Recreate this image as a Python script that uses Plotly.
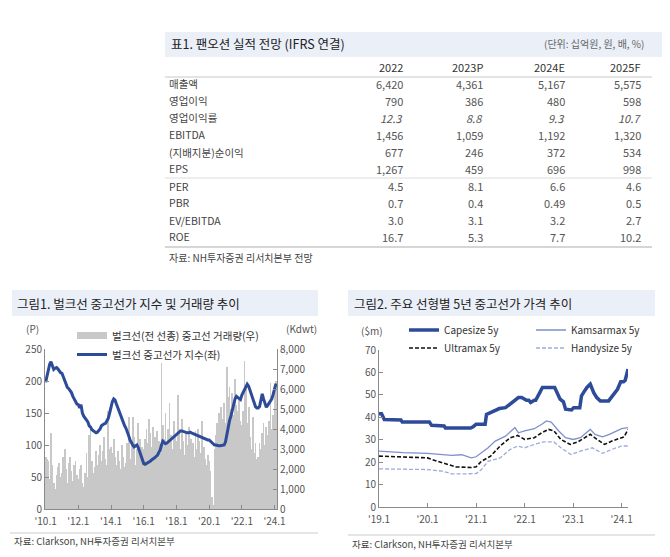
import plotly.graph_objects as go

# page body adds an 8px margin, so the figure is drawn 8px in from the corner
OFF = 8
W, H = 670 - OFF, 557 - OFF
FONT = "Noto Sans CJK KR"

# ---- 표1 data
tbl_title = "표1. 팬오션 실적 전망 (IFRS 연결)"
tbl_unit = "(단위: 십억원, 원, 배, %)"
tbl_cols = ["2022", "2023P", "2024E", "2025F"]
tbl_rows = ["매출액", "영업이익", "영업이익률", "EBITDA", "(지배지분)순이익", "EPS",
            "PER", "PBR", "EV/EBITDA", "ROE"]
tbl_vals = [
    ["6,420", "4,361", "5,167", "5,575"],
    ["790", "386", "480", "598"],
    ["12.3", "8.8", "9.3", "10.7"],
    ["1,456", "1,059", "1,192", "1,320"],
    ["677", "246", "372", "534"],
    ["1,267", "459", "696", "998"],
    ["4.5", "8.1", "6.6", "4.6"],
    ["0.7", "0.4", "0.49", "0.5"],
    ["3.0", "3.1", "3.2", "2.7"],
    ["16.7", "5.3", "7.7", "10.2"],
]
tbl_source = "자료: NH투자증권 리서치본부 전망"

# ---- 그림1 data (monthly, 2010.1 ~ 2024.2)
fig1_title = "그림1. 벌크선 중고선가 지수 및 거래량 추이"
idx_months = [f"{y}-{m:02d}-01" for y in range(2010, 2025) for m in range(1, 13)][:170]
price_index = [
    198, 208, 218, 226, 230, 224, 218, 220, 221, 219, 215, 213,
    212, 206, 200, 195, 190, 188, 185, 182, 176, 172, 168, 164,
    163, 158, 163, 150, 145, 142, 140, 136, 130, 128, 124, 122,
    120, 119, 120, 122, 125, 130, 132, 133, 134, 138, 142, 150,
    160, 168, 172, 170, 164, 158, 152, 145, 140, 134, 130, 126,
    118, 114, 108, 103, 100, 97, 98, 100, 96, 90, 85, 78,
    71, 70, 71, 72, 73, 75, 77, 78, 80, 82, 84, 88,
    92, 100, 106, 104, 102, 103, 105, 106, 108, 110, 112, 115,
    116, 118, 120, 122, 122, 121, 120, 119, 119, 119, 120, 119,
    118, 118, 117, 116, 115, 114, 113, 112, 111, 110, 109, 108,
    108, 106, 104, 101, 100, 100, 99, 99, 99, 99, 100, 100,
    105, 118, 129, 138, 145, 156, 166, 172, 176, 174, 172, 171,
    178, 182, 186, 192, 195, 192, 186, 178, 171, 165, 160, 158,
    158, 160, 170, 180, 172, 163, 159, 162, 166, 168, 172, 179,
    186, 196,
]
trade_volume = [
    2600, 2500, 2400, 1500, 3800, 2200, 1300, 1000, 1700, 2100, 2300, 1600,
    1800, 2600, 3000, 2000, 1300, 2300, 2600, 1900, 1400, 2200, 2400, 1700,
    1500, 2000, 2200, 1300, 1100, 1800, 2800, 1600, 3700, 4000, 2400, 1800,
    2100, 2900, 2200, 2700, 3200, 2400, 2900, 3600, 2500, 2200, 4900, 3000,
    3100, 2800, 3500, 2600, 2200, 2900, 2400, 2000, 3200, 2600, 2100, 2300,
    3300, 4600, 2500, 3400, 4600, 3600, 2200, 3000, 4300, 3500, 2600, 3100,
    3000, 3500, 4000, 3300, 4500, 3800, 3100, 4100, 3600, 3000, 3900, 3400,
    2800, 7300, 4200, 3500, 4800, 3200, 4000, 5300, 3700, 3000, 4400, 3600,
    3400, 5700, 4000, 3000, 4500, 3400, 2700, 3800, 3200, 4100, 2900, 3500,
    3300, 2600, 3900, 3000, 4000, 3400, 2800, 4400, 3100, 2500, 2200, 2700,
    2400, 1900, 600, 200, 3000, 3700, 4300, 4800, 4000, 5100, 4500, 5300,
    4300, 7100, 5600, 6100, 5000, 5800, 4700, 6500, 5200, 4900, 5600, 4400,
    4200, 4900, 7400, 6000, 4300, 5100, 3600, 3000, 4600, 2800, 3300, 2500,
    2600, 3300, 3000, 3800, 4300, 3200, 4100, 3700, 4400, 6300, 4000, 4700,
    5800, 6400,
]
fig1_ticks = ["2010-01-01", "2012-01-01", "2014-01-01", "2016-01-01",
              "2018-01-01", "2020-01-01", "2022-01-01", "2024-01-01"]
fig1_ticktext = ["'10.1", "'12.1", "'14.1", "'16.1", "'18.1", "'20.1", "'22.1", "'24.1"]
fig1_source = "자료: Clarkson, NH투자증권 리서치본부"

# ---- 그림2 data ($m)
fig2_title = "그림2. 주요 선형별 5년 중고선가 가격 추이"
cape_dates = ["2019-01-01", "2019-01-20", "2019-02-10", "2019-06-15", "2019-06-25", "2020-01-15",
              "2020-02-01", "2020-05-05", "2020-05-15", "2020-11-20", "2020-12-10", "2021-01-01",
              "2021-03-10", "2021-03-20", "2021-04-15", "2021-05-20", "2021-06-25", "2021-08-10",
              "2021-09-15", "2021-10-20", "2021-11-15", "2021-12-10", "2022-01-15", "2022-02-01",
              "2022-02-15", "2022-03-15", "2022-03-25", "2022-04-25", "2022-05-15", "2022-08-15",
              "2022-09-05", "2022-09-25", "2022-10-20", "2022-11-05", "2022-12-20", "2023-01-05",
              "2023-02-20", "2023-03-05", "2023-03-20", "2023-04-15", "2023-05-10", "2023-06-05",
              "2023-06-28", "2023-07-25", "2023-09-25", "2023-10-15", "2023-11-10", "2023-12-01",
              "2023-12-25", "2024-01-15", "2024-01-28", "2024-02-18"]
cape_vals = [41.6, 41.6, 39.0, 38.8, 37.9, 37.9,
             36.4, 36.1, 35.2, 35.2, 35.8, 36.9,
             36.9, 41.3, 42.0, 42.8, 43.9, 44.3,
             45.8, 47.3, 48.8, 48.8, 47.6, 47.6,
             46.6, 47.6, 47.6, 51.0, 53.3, 53.3,
             50.3, 48.1, 46.9, 43.6, 43.3, 44.3,
             44.3, 49.6, 51.0, 53.3, 54.8, 51.0,
             48.8, 47.3, 47.3, 48.8, 51.0, 52.5,
             55.8, 55.8, 56.5, 61.5]
kmax_dates = ["2019-01-01", "2019-07-01", "2020-01-01", "2020-07-01", "2020-09-15", "2020-11-25",
              "2021-01-01", "2021-02-10", "2021-04-01", "2021-05-25", "2021-08-10", "2021-10-20",
              "2021-11-15", "2022-01-01", "2022-03-15", "2022-05-10", "2022-06-15", "2022-07-20",
              "2022-09-15", "2022-11-05", "2023-01-01", "2023-02-25", "2023-05-10", "2023-06-15",
              "2023-08-10", "2023-10-01", "2023-11-25", "2024-01-01", "2024-02-18"]
kmax_vals = [24.9, 24.2, 23.9, 23.0, 23.3, 21.9,
             22.4, 24.2, 26.4, 29.4, 31.6, 35.4,
             33.1, 33.9, 34.9, 36.9, 38.4, 37.9,
             33.9, 30.9, 30.1, 30.9, 34.6, 32.4,
             31.3, 32.4, 33.9, 34.9, 35.4]
umax_dates = ["2019-01-01", "2019-08-01", "2020-01-01", "2020-03-15", "2020-05-25", "2020-08-01",
              "2020-11-25", "2021-01-01", "2021-02-10", "2021-04-20", "2021-07-01", "2021-09-15",
              "2021-11-10", "2022-01-01", "2022-03-15", "2022-05-10", "2022-07-01", "2022-08-10",
              "2022-10-01", "2022-12-10", "2023-02-05", "2023-05-10", "2023-07-01", "2023-08-25",
              "2023-10-20", "2024-01-01", "2024-01-20", "2024-02-18"]
umax_vals = [22.7, 22.4, 21.9, 20.4, 19.0, 17.9,
             17.6, 17.9, 20.4, 22.7, 27.2, 30.9,
             31.9, 30.1, 30.9, 33.1, 34.6, 33.9,
             30.1, 27.9, 29.0, 32.4, 30.1, 27.9,
             29.4, 30.9, 31.3, 34.6]
handy_dates = ["2019-01-01", "2019-07-01", "2020-01-01", "2020-04-20", "2020-07-01", "2020-10-20",
               "2021-01-01", "2021-02-10", "2021-04-01", "2021-07-01", "2021-09-15", "2021-11-10",
               "2022-01-01", "2022-03-15", "2022-05-25", "2022-08-10", "2022-10-01", "2022-12-15",
               "2023-02-25", "2023-05-25", "2023-08-10", "2023-10-20", "2024-01-01", "2024-02-18"]
handy_vals = [17.0, 16.7, 16.7, 16.0, 14.8, 14.8,
              14.9, 16.7, 20.4, 21.9, 25.7, 27.2,
              26.4, 27.9, 29.0, 29.0, 26.4, 23.4,
              24.9, 26.4, 23.9, 25.7, 27.2, 27.2]
fig2_ticks = ["2019-01-01", "2020-01-01", "2021-01-01", "2022-01-01", "2023-01-01", "2024-01-01"]
fig2_ticktext = ["'19.1", "'20.1", "'21.1", "'22.1", "'23.1", "'24.1"]
fig2_source = "자료: Clarkson, NH투자증권 리서치본부"


def px(v):
    return (v - OFF) / W


def py(v):
    return 1 - (v - OFF) / H


BLUE = "#2d4b98"
BAR_GREY = "#c8c8c8"
AX = "#8a8a8a"
TICKF = dict(family=FONT, size=10, color="#555")

fig = go.Figure()

# 그림1: bars on y (right side), line on y2 (left side, drawn on top)
fig.add_trace(go.Bar(x=idx_months, y=trade_volume, marker_color=BAR_GREY, marker_line_width=0,
                     showlegend=False, xaxis="x", yaxis="y"))
fig.add_trace(go.Scatter(x=[None], y=[None], mode="lines", line=dict(color=BAR_GREY, width=7),
                         name="벌크선(전 선종) 중고선 거래량(우)", legend="legend", xaxis="x", yaxis="y"))
fig.add_trace(go.Scatter(x=idx_months, y=price_index, mode="lines", line=dict(color=BLUE, width=3),
                         name="벌크선 중고선가 지수(좌)", legend="legend", xaxis="x", yaxis="y2"))

# 그림2
fig.add_trace(go.Scatter(x=cape_dates, y=cape_vals, mode="lines", line=dict(color=BLUE, width=3.5),
                         name="Capesize 5y", legend="legend2", xaxis="x2", yaxis="y3"))
fig.add_trace(go.Scatter(x=kmax_dates, y=kmax_vals, mode="lines", line=dict(color="#7e8fcc", width=1.3),
                         name="Kamsarmax 5y", legend="legend2", xaxis="x2", yaxis="y3"))
fig.add_trace(go.Scatter(x=umax_dates, y=umax_vals, mode="lines",
                         line=dict(color="#111111", width=1.6, dash="4px,2px"),
                         name="Ultramax 5y", legend="legend3", xaxis="x2", yaxis="y3"))
fig.add_trace(go.Scatter(x=handy_dates, y=handy_vals, mode="lines",
                         line=dict(color="#9eaadc", width=1.3, dash="4px,2px"),
                         name="Handysize 5y", legend="legend3", xaxis="x2", yaxis="y3"))

axis_common = dict(showline=True, linecolor=AX, linewidth=1, ticks="inside", ticklen=4,
                   tickcolor=AX, showgrid=False, zeroline=False, tickfont=TICKF, fixedrange=True,
                   automargin=False)

fig.update_layout(
    width=W, height=H, margin=dict(l=0, r=0, t=0, b=0, autoexpand=False),
    paper_bgcolor="white", plot_bgcolor="white",
    font=dict(family=FONT, size=11, color="#333"),
    bargap=0.35,
    xaxis=dict(domain=[px(45), px(277)], range=["2009-12-18", "2024-02-25"], type="date",
               tickvals=fig1_ticks, ticktext=fig1_ticktext, anchor="y", ticklabelstandoff=3,
               **axis_common),
    yaxis=dict(domain=[py(509), py(349)], range=[0, 8000], side="right", anchor="x",
               tickvals=list(range(0, 8001, 1000)), tickformat=",", **axis_common),
    yaxis2=dict(range=[0, 250], overlaying="y", side="left", anchor="x",
                tickvals=list(range(0, 251, 50)), **axis_common),
    xaxis2=dict(domain=[px(379), px(628)], range=["2019-01-01", "2024-02-18"], type="date",
                tickvals=fig2_ticks, ticktext=fig2_ticktext, anchor="y3", ticklabelstandoff=3,
                **axis_common),
    yaxis3=dict(domain=[py(507), py(350)], range=[0, 70], anchor="x2",
                tickvals=list(range(0, 71, 10)), **axis_common),
    legend=dict(x=px(72), y=py(321), xanchor="left", yanchor="top", orientation="v",
                bgcolor="rgba(0,0,0,0)", font=dict(family=FONT, size=10.5, color="#333"),
                tracegroupgap=2),
    legend2=dict(x=px(404), y=py(330), xanchor="left", yanchor="middle", orientation="h",
                 entrywidth=82, bgcolor="rgba(0,0,0,0)",
                 font=dict(family=FONT, size=10, color="#333")),
    legend3=dict(x=px(404), y=py(348), xanchor="left", yanchor="middle", orientation="h",
                 entrywidth=82, bgcolor="rgba(0,0,0,0)",
                 font=dict(family=FONT, size=10, color="#333")),
)

shapes = []
ann = []

# title bands
for x0, x1, y0, y1 in [(165, 668, 32, 57), (12, 318, 290, 316), (348, 655, 290, 316)]:
    shapes.append(dict(type="rect", xref="paper", yref="paper", x0=px(x0), x1=px(x1),
                       y0=py(y1), y1=py(y0), fillcolor="#eaeff8", line_width=0, layer="below"))

# table lines
shapes.append(dict(type="line", xref="paper", yref="paper", x0=px(165), x1=px(652),
                   y0=py(77), y1=py(77), line=dict(color="#c8c8c8", width=1)))
shapes.append(dict(type="line", xref="paper", yref="paper", x0=px(165), x1=px(652),
                   y0=py(178), y1=py(178), line=dict(color="#dddddd", width=1)))
shapes.append(dict(type="line", xref="paper", yref="paper", x0=px(165), x1=px(652),
                   y0=py(247), y1=py(247), line=dict(color="#c8c8c8", width=1.5)))
# chart source lines
shapes.append(dict(type="line", xref="paper", yref="paper", x0=px(10), x1=px(318),
                   y0=py(533), y1=py(533), line=dict(color="#dddddd", width=1.5)))
shapes.append(dict(type="line", xref="paper", yref="paper", x0=px(348), x1=px(655),
                   y0=py(535), y1=py(535), line=dict(color="#dddddd", width=1.5)))


def text(x, y, s, size=11, color="#333", anchor="left", italic=False):
    ann.append(dict(xref="paper", yref="paper", x=px(x), y=py(y), text=s, showarrow=False,
                    xanchor=anchor, yanchor="middle",
                    font=dict(family=FONT, size=size, color=color,
                              style="italic" if italic else "normal")))


text(169, 44, tbl_title, size=12.5, color="#222")
text(646, 44, tbl_unit, size=10, color="#666", anchor="right")
col_x = [405, 485, 567, 643]
for cx, c in zip(col_x, tbl_cols):
    text(cx, 67, c, size=11, color="#333", anchor="right")
for i, (r, vals) in enumerate(zip(tbl_rows, tbl_vals)):
    yy = 84 + i * 17
    text(167, yy, r, size=10.5, color="#444")
    for cx, v in zip(col_x, vals):
        text(cx, yy, v, size=11, color="#555", anchor="right", italic=(r == "영업이익률"))
text(167, 257, tbl_source, size=10, color="#444")

text(15, 303, fig1_title, size=12.5, color="#222")
text(352, 303, fig2_title, size=12.5, color="#222")
text(24, 328, "(P)", size=10, color="#555")
text(284, 328, "(Kdwt)", size=10, color="#555")
text(359, 330, "($m)", size=10, color="#555")
text(12, 541, fig1_source, size=9.5, color="#444")
text(350, 544, fig2_source, size=9.5, color="#444")

fig.update_layout(shapes=shapes, annotations=ann)
fig.write_html("out.html")
